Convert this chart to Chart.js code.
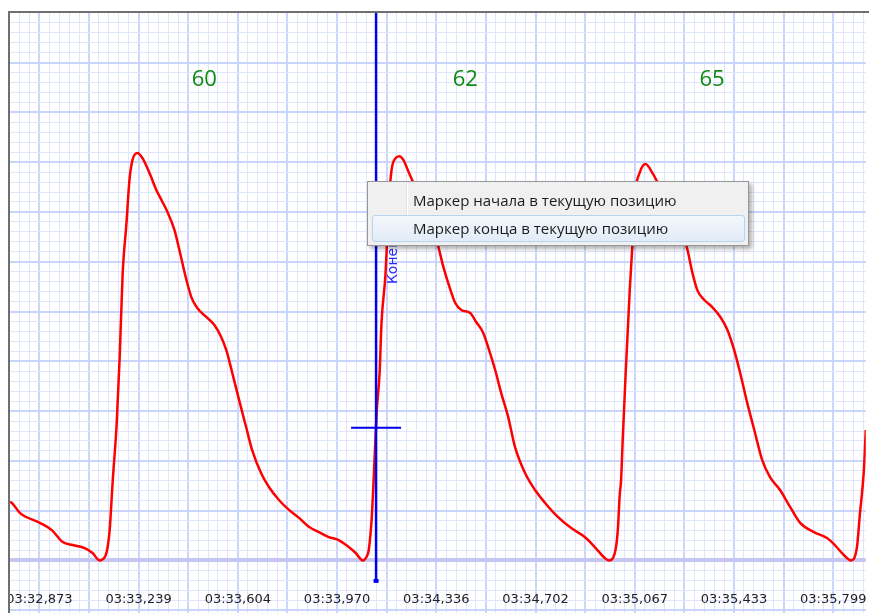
<!DOCTYPE html>
<html>
<head>
<meta charset="utf-8">
<script src="https://cdn.jsdelivr.net/npm/chart.js@4.4.1/dist/chart.umd.min.js"></script>
<style>
body { margin: 0; background: #fff; width: 869px; height: 613px; overflow: hidden; position: relative; }
#frame { position: absolute; left: 8px; top: 11px; width: 861px; height: 602px; border-top: 2px solid #6f6f6f; border-left: 2px solid #6f6f6f; }
#wave { position: absolute; left: 10px; top: 13px; }
#menu { position: absolute; left: 367px; top: 181px; width: 382px; height: 65px; box-sizing: border-box;
        border: 1px solid #979797; background: #f0f0f0; box-shadow: 3px 3px 4px rgba(0,0,0,0.3);
        font-family: "Open Sans", sans-serif; font-size: 15px; color: #1b1b1b; }
#menu .gutter { position: absolute; left: 38px; top: 2px; bottom: 2px; width: 1px; background: #e2e3e3; border-right: 1px solid #fff; }
#menu .hover { position: absolute; left: 4px; top: 33px; width: 373px; height: 27px; box-sizing: border-box;
               border: 1px solid #b8d2ef; border-radius: 3px; background: linear-gradient(#f4f8fd, #e2ebf7); }
#menu .item { position: absolute; left: 45px; height: 20px; line-height: 20px; white-space: nowrap; }
</style>
</head>
<body>
<div id="frame"></div>
<canvas id="wave" width="859" height="600"></canvas>
<div id="menu">
  <div class="gutter"></div>
  <div class="hover"></div>
  <div class="item" style="top:8px">Маркер начала в текущую позицию</div>
  <div class="item" style="top:36px">Маркер конца в текущую позицию</div>
</div>
<script>
// time axis, ms since 03:32:00
var tickTimes = [32873, 33239, 33604, 33970, 34336, 34702, 35067, 35433, 35799];
var tickLabels = ['03:32,873', '03:33,239', '03:33,604', '03:33,970', '03:34,336', '03:34,702', '03:35,067', '03:35,433', '03:35,799'];

// pressure curve samples
var sampleTimes = [32765, 32772, 32801, 32875, 32919, 32959, 32996, 33040, 33069, 33095,
    33106, 33121, 33132, 33143, 33158, 33169, 33180, 33194, 33205, 33216,
    33235, 33253, 33279, 33304, 33323, 33345, 33371, 33389, 33415, 33433,
    33455, 33488, 33518, 33543, 33562, 33584, 33609, 33635, 33657, 33690,
    33719, 33756, 33793, 33830, 33866, 33903, 33940, 33976, 34013, 34039,
    34065, 34079, 34087, 34098, 34105, 34116, 34127, 34134, 34149, 34160,
    34171, 34186, 34200, 34215, 34234, 34252, 34270, 34289, 34311, 34333,
    34344, 34362, 34380, 34406, 34428, 34461, 34483, 34509, 34527, 34553,
    34575, 34601, 34626, 34663, 34700, 34737, 34784, 34832, 34883, 34920,
    34953, 34972, 34994, 35005, 35012, 35017, 35023, 35034, 35049, 35060,
    35071, 35085, 35107, 35133, 35151, 35177, 35196, 35218, 35243, 35262,
    35280, 35298, 35324, 35353, 35383, 35409, 35434, 35456, 35482, 35508,
    35537, 35566, 35603, 35640, 35677, 35728, 35776, 35805, 35838, 35864,
    35886, 35897, 35912, 35919];
var pressure = [23.5, 23.1, 19.1, 15.1, 12.2, 7.4, 6.2, 5.0, 3.0, 0,
    0.4, 3.4, 12.2, 31.5, 55.2, 81.7, 115.5, 135.5, 152.8, 160.8,
    163.7, 161.6, 155.6, 148.8, 144.8, 140.0, 132.7, 124.7, 112.7, 105.8,
    101.4, 97.8, 94.6, 89.8, 84.5, 75.3, 64.5, 53.6, 44.4, 35.1,
    29.5, 24.3, 20.3, 17.1, 13.5, 11.4, 9.4, 8.2, 5.4, 3.0,
    0, 1.5, 4.2, 17.1, 32.3, 59.2, 75.3, 95.4, 115.5, 142.0,
    156.8, 161.6, 162.4, 160.8, 156.0, 151.6, 146.8, 142.8, 137.6, 130.7,
    125.9, 117.9, 111.4, 103.4, 100.6, 99.4, 95.8, 91.4, 85.7, 76.5,
    67.3, 57.6, 45.6, 35.1, 28.3, 23.1, 17.5, 13.1, 9.4, 5.4,
    1.4, 0, 3.0, 12.2, 26.3, 32.3, 48.4, 75.3, 108.6, 128.7,
    148.8, 155.6, 159.2, 155.6, 152.0, 146.8, 142.8, 138.8, 132.0, 124.7,
    115.5, 108.6, 104.6, 101.8, 97.8, 92.6, 84.5, 75.3, 63.3, 52.4,
    40.4, 33.5, 28.3, 21.5, 15.1, 11.4, 9.0, 6.2, 2.2, 0,
    5.0, 18.3, 36.3, 52.4];

// heart rate per beat
var rateTimes = [33481, 34443, 35352];
var rateValues = [60, 62, 65];
var rateLevel = 193;

// end marker
var markerTime = 34114;
var markerValue = 53.3;
var markerLabel = 'Конец';

var xMin = 32764.7, xMax = 35919.0;
var yMin = -21.1, yMax = 219.9;
var xStep = (tickTimes[tickTimes.length - 1] - tickTimes[0]) / ((tickTimes.length - 1) * 10);
var yStep = 4;

function xIndex(v) { return Math.round((v - tickTimes[0]) / xStep); }
function mod(a, n) { return ((a % n) + n) % n; }

var overlay = {
    id: 'overlay',
    afterDatasetsDraw: function(chart) {
        var c = chart.ctx, xs = chart.scales.x, ys = chart.scales.y;
        c.save();
        c.fillStyle = '#0d8a12';
        c.font = '22px "Open Sans"';
        c.textAlign = 'center';
        c.textBaseline = 'middle';
        rateValues.forEach(function(r, i) {
            c.fillText(String(r), xs.getPixelForValue(rateTimes[i]), ys.getPixelForValue(rateLevel));
        });

        var mx = xs.getPixelForValue(markerTime);
        var my = ys.getPixelForValue(markerValue);
        var bottom = ys.getPixelForValue(-8.6);
        c.strokeStyle = '#0000f0';
        c.lineWidth = 2.5;
        c.beginPath();
        c.moveTo(mx, 0);
        c.lineTo(mx, bottom);
        c.stroke();
        c.lineWidth = 2;
        c.beginPath();
        c.moveTo(mx - 25, my);
        c.lineTo(mx + 25, my);
        c.stroke();
        c.fillStyle = '#0000f0';
        c.fillRect(mx - 2.5, bottom - 3, 5, 4);

        c.translate(mx + 20.5, ys.getPixelForValue(111));
        c.rotate(-Math.PI / 2);
        c.fillStyle = '#2a2aff';
        c.font = '14px "DejaVu Sans"';
        c.textAlign = 'left';
        c.textBaseline = 'alphabetic';
        c.fillText(markerLabel, 0, 0);
        c.restore();
    }
};

var ctx = document.getElementById('wave');
var waveChart = new Chart(ctx.getContext('2d'), {
    type: 'line',
    data: {
        datasets: [{
            label: 'Давление',
            data: sampleTimes.map(function(t, i) { return { x: t, y: pressure[i] }; }),
            borderColor: '#ff0000',
            borderWidth: 2.5,
            pointRadius: 0,
            cubicInterpolationMode: 'monotone',
            fill: false
        }]
    },
    options: {
        responsive: false,
        animation: false,
        events: [],
        layout: { padding: 0 },
        plugins: {
            legend: { display: false },
            tooltip: { enabled: false }
        },
        scales: {
            x: {
                type: 'linear',
                position: 'bottom',
                min: xMin,
                max: xMax,
                afterBuildTicks: function(scale) {
                    var ticks = [];
                    var k0 = Math.ceil((xMin - tickTimes[0]) / xStep);
                    var k1 = Math.floor((xMax - tickTimes[0]) / xStep);
                    for (var k = k0; k <= k1; k++) ticks.push({ value: tickTimes[0] + k * xStep });
                    scale.ticks = ticks;
                },
                afterFit: function(scale) { scale.height = 0; },
                border: { display: false },
                grid: {
                    drawTicks: false,
                    color: function(c) { return mod(xIndex(c.tick.value), 5) === 0 ? '#cad5fd' : '#dfe5fd'; },
                    lineWidth: function(c) { return mod(xIndex(c.tick.value), 5) === 0 ? 2 : 1; }
                },
                ticks: {
                    autoSkip: false,
                    maxRotation: 0,
                    minRotation: 0,
                    mirror: true,
                    padding: 6,
                    color: '#222',
                    font: { family: 'DejaVu Sans', size: 13 },
                    callback: function(value) {
                        var k = xIndex(value);
                        if (k >= 0 && k % 10 === 0 && k / 10 < tickLabels.length) return tickLabels[k / 10];
                        return '';
                    }
                }
            },
            y: {
                type: 'linear',
                min: yMin,
                max: yMax,
                afterBuildTicks: function(scale) {
                    var ticks = [];
                    for (var v = Math.ceil(yMin / yStep) * yStep; v <= yMax; v += yStep) ticks.push({ value: v });
                    scale.ticks = ticks;
                },
                afterFit: function(scale) { scale.width = 0; },
                border: { display: false },
                grid: {
                    drawTicks: false,
                    color: function(c) {
                        var v = Math.round(c.tick.value);
                        if (v === 0) return '#c6c6f3';
                        return mod(v, 20) === 0 ? '#cad5fd' : '#dfe5fd';
                    },
                    lineWidth: function(c) {
                        var v = Math.round(c.tick.value);
                        if (v === 0) return 4;
                        return mod(v, 20) === 0 ? 2 : 1;
                    }
                },
                ticks: { display: false }
            }
        }
    },
    plugins: [overlay]
});
</script>
</body>
</html>
